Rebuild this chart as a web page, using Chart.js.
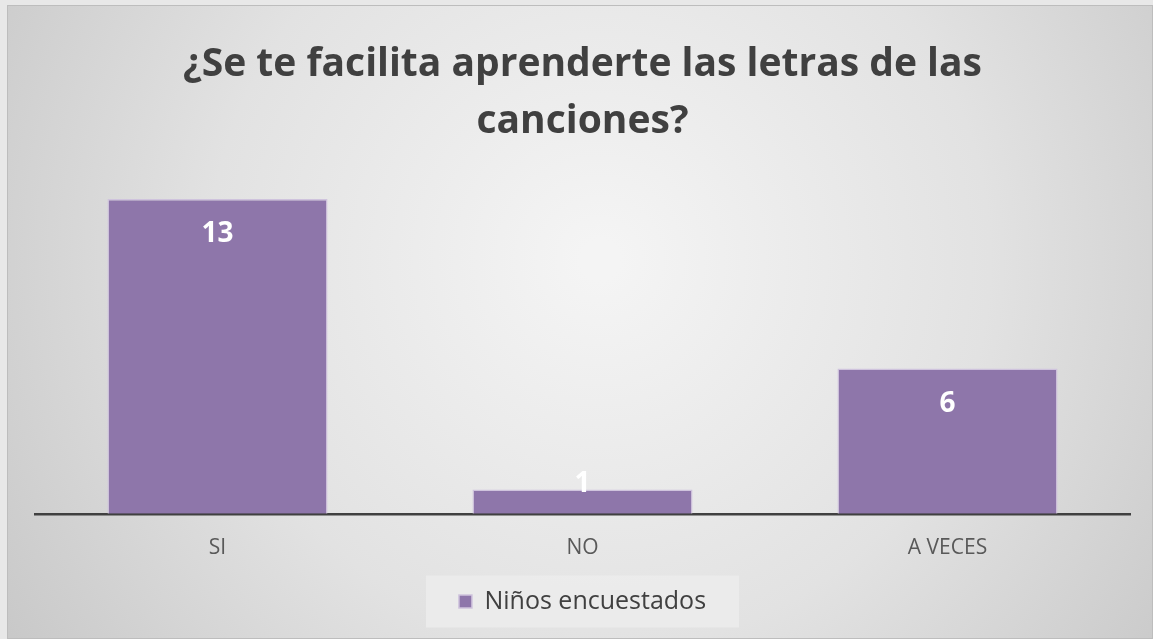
<!DOCTYPE html>
<html>
<head>
<meta charset="utf-8">
<script src="https://cdn.jsdelivr.net/npm/chart.js@4.4.1/dist/chart.umd.min.js"></script>
<style>
html,body{margin:0;padding:0;background:#e6e6e6;}
#wrap{width:1153px;height:639px;position:relative;}
canvas{display:block;}
</style>
</head>
<body>
<div id="wrap"><canvas id="c" width="1153" height="639"></canvas></div>
<script>
const categories = ["SI", "NO", "A VECES"];
const seriesName = "Niños encuestados";
const values = [13, 1, 6];
const titleLines = ["¿Se te facilita aprenderte las letras de las", "canciones?"];

const FONT = "'Open Sans', 'Liberation Sans', sans-serif";

const bgPlugin = {
  id: 'bg',
  beforeDraw(chart) {
    const ctx = chart.ctx, w = chart.width, h = chart.height;
    ctx.save();
    ctx.fillStyle = '#e8e8e8';
    ctx.fillRect(0, 0, w, h);
    const g = ctx.createRadialGradient(600, 260, 20, 600, 260, 760);
    g.addColorStop(0, '#f4f4f4');
    g.addColorStop(0.5, '#e2e2e2');
    g.addColorStop(1, '#c4c4c4');
    ctx.fillStyle = g;
    ctx.fillRect(7, 5, w - 7, h - 5);
    ctx.strokeStyle = '#bdbdbd';
    ctx.lineWidth = 1;
    ctx.strokeRect(7.5, 5.5, w - 8, h - 6);
    const lg = chart.legend;
    if (lg && lg.legendHitBoxes && lg.legendHitBoxes.length) {
      const hb = lg.legendHitBoxes[0];
      const cx = hb.left + hb.width / 2;
      const cy = hb.top + hb.height / 2;
      const bw = hb.width + 66, bh = 52;
      ctx.fillStyle = 'rgba(236,236,236,0.85)';
      ctx.fillRect(cx - bw / 2, cy - bh / 2, bw, bh);
    }
    ctx.restore();
  }
};

const labelPlugin = {
  id: 'vlabels',
  afterDatasetsDraw(chart) {
    const ctx = chart.ctx;
    const meta = chart.getDatasetMeta(0);
    const base = chart.scales.y.getPixelForValue(0);
    ctx.save();
    ctx.fillStyle = '#ffffff';
    ctx.font = "bold 28px " + FONT;
    ctx.textAlign = 'center';
    ctx.textBaseline = 'middle';
    meta.data.forEach((bar, i) => {
      let y = bar.y + 35;
      if (y > base - 30) y = base - 30;
      ctx.fillText(String(values[i]), bar.x, y);
    });
    ctx.restore();
  }
};

new Chart(document.getElementById('c'), {
  type: 'bar',
  data: {
    labels: categories,
    datasets: [{
      label: seriesName,
      data: values,
      backgroundColor: '#8e76aa',
      borderColor: '#cfc3dd',
      borderWidth: 1.5,
      borderSkipped: 'bottom',
      barPercentage: 0.603,
      categoryPercentage: 1.0
    }]
  },
  options: {
    responsive: false,
    animation: false,
    devicePixelRatio: 1,
    layout: { padding: { top: 20, left: 35, right: 23, bottom: 15 } },
    plugins: {
      title: {
        display: true,
        text: titleLines,
        color: '#404040',
        font: { family: FONT, size: 39, weight: 'bold', lineHeight: 1.46 },
        padding: { top: 16, bottom: 25 }
      },
      legend: {
        display: true,
        position: 'bottom',
        labels: {
          color: '#404040',
          font: { family: FONT, size: 25 },
          boxWidth: 13,
          boxHeight: 13,
          padding: 6
        }
      },
      tooltip: { enabled: false }
    },
    scales: {
      x: {
        grid: { display: false, drawTicks: false },
        border: { display: true, color: '#404040', width: 2.5 },
        ticks: { color: '#595959', font: { family: FONT, size: 21 }, padding: 22 }
      },
      y: {
        display: false,
        min: 0,
        max: 14
      }
    }
  },
  plugins: [bgPlugin, labelPlugin]
});
</script>
</body>
</html>
